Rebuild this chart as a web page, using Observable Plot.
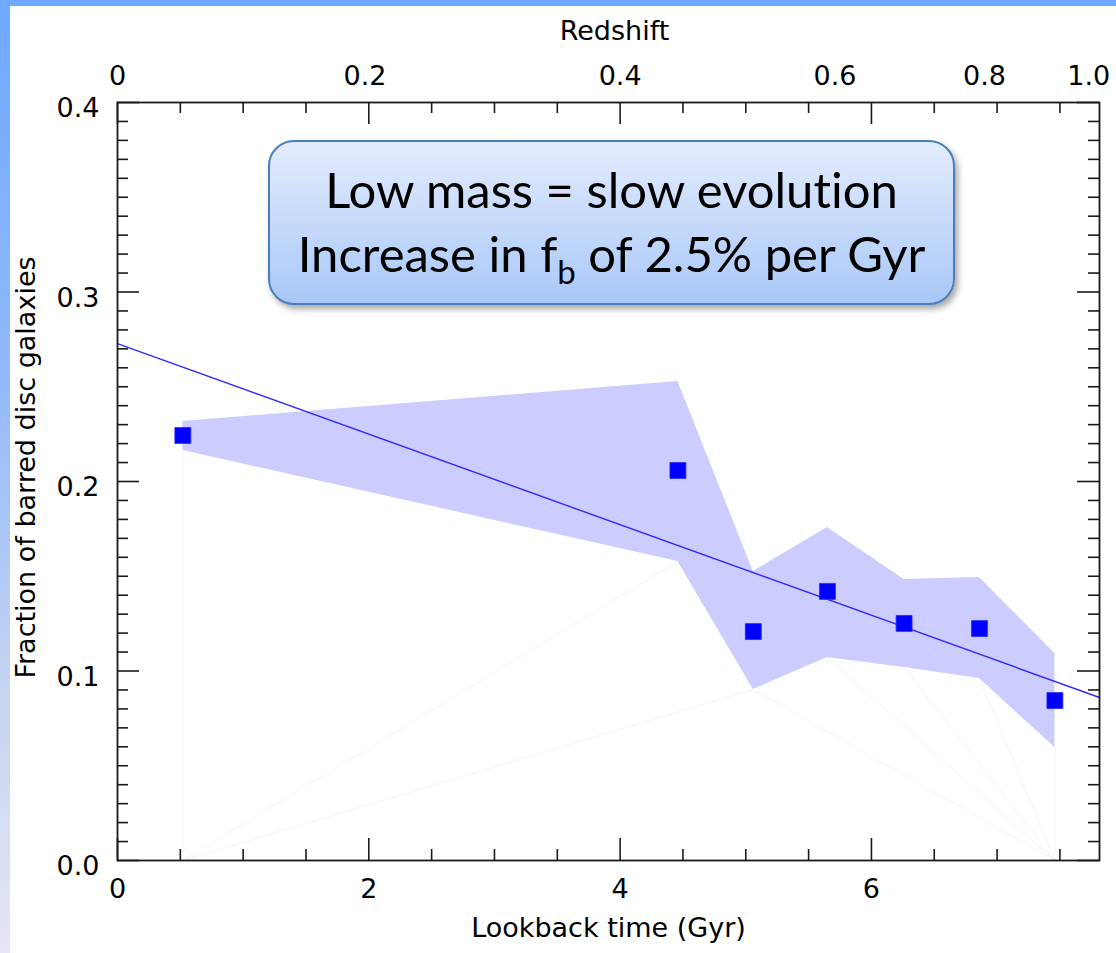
<!DOCTYPE html>
<html><head><meta charset="utf-8">
<script src="https://cdn.jsdelivr.net/npm/d3@7"></script>
<script src="https://cdn.jsdelivr.net/npm/@observablehq/plot@0.6"></script>
<style>
html,body{margin:0;padding:0;background:#fff;}
#wrap{position:relative;width:1116px;height:953px;overflow:hidden;background:#fff;}
#chart{position:absolute;left:0;top:0;}
#topbar{position:absolute;left:0;top:0;width:1116px;height:6px;background:#6fa8ff;}
#leftbar{position:absolute;left:0;top:0;width:10px;height:953px;background:linear-gradient(#6fa8ff,#92bafc 40%,#c8d6f2 75%,#e6e4f6);}
#note{position:absolute;left:268px;top:140px;width:687px;height:165px;box-sizing:border-box;border:2px solid #4a7ebb;border-radius:26px;background:linear-gradient(#e3ecfd,#a9c8f8);box-shadow:3px 4px 6px rgba(0,0,0,0.35);font-family:Lato,"Open Sans",sans-serif;font-size:49px;color:#000;text-align:center;line-height:64px;padding-top:15px;white-space:nowrap;font-variant-ligatures:none;font-feature-settings:"liga" 0;}
#note .sub{font-size:33px;position:relative;top:12px;}
</style></head><body>
<div id="wrap">
<div id="chart"></div>
<div id="topbar"></div>
<div id="leftbar"></div>
<div id="note"><div>Low mass = slow evolution</div><div>Increase in f<span class="sub">b</span> of 2.5% per Gyr</div></div>
</div>
<script>
// Data
const lookback = [0.52, 4.46, 5.06, 5.65, 6.26, 6.86, 7.46];          // Gyr
const fraction = [0.2243, 0.2058, 0.1208, 0.142, 0.1251, 0.1224, 0.0844];
const bandHigh = [0.2317, 0.2528, 0.1525, 0.1757, 0.1483, 0.1493, 0.1092];
const bandLow  = [0.2164, 0.1578, 0.0902, 0.1071, 0.1018, 0.0960, 0.0596];
const fitIntercept = 0.2728;   // fraction at lookback 0
const fitSlope = -0.0239;      // per Gyr
const xMax = 7.815;
const xTicks = [0, 2, 4, 6];
const yTicks = [0, 0.1, 0.2, 0.3, 0.4];
const redshiftLabels = ["0", "0.2", "0.4", "0.6", "0.8", "1.0"];
const redshiftAt = [0, 1.97, 4.0, 5.71, 6.90, 7.73];   // lookback-time positions of the redshift labels

const W = 1116, H = 953;
const mL = 117, mR = 17, mT = 102, mB = 93;
const frameW = W - mL - mR, frameH = H - mT - mB;

const rows = lookback.map((t, i) => ({t, f: fraction[i], hi: bandHigh[i], lo: bandLow[i]}));
const fitRows = [0, xMax].map(t => ({t, f: fitIntercept + fitSlope * t}));
const last = rows.length - 1;
const faint = [
  {x1: rows[0].t, y1: 0, x2: rows[0].t, y2: rows[0].lo},
  {x1: rows[0].t, y1: 0, x2: rows[1].t, y2: rows[1].lo},
  {x1: rows[0].t, y1: 0, x2: rows[2].t, y2: rows[2].lo},
  ...rows.slice(2, last).map(r => ({x1: rows[last].t, y1: 0, x2: r.t, y2: r.lo})),
  {x1: rows[last].t, y1: 0, x2: rows[last].t, y2: rows[last].lo}
];
const xMinor = d3.range(0, xMax, 0.5).filter(v => v % 2 !== 0);
const yMinor = d3.range(1, 40).map(v => v / 100).filter(v => Math.round(v * 100) % 10 !== 0);

const ink = "#000";
const fs = 27;

const chart = Plot.plot({
  width: W, height: H,
  marginLeft: mL, marginRight: mR, marginTop: mT, marginBottom: mB,
  style: {fontFamily: "'DejaVu Sans', sans-serif", fontSize: fs + "px", background: "transparent", color: ink},
  x: {domain: [0, xMax], axis: null},
  y: {domain: [0, 0.4], axis: null},
  marks: [
    Plot.link(faint, {x1: "x1", y1: "y1", x2: "x2", y2: "y2", stroke: "#f2f2fb", strokeWidth: 1}),
    Plot.areaY(rows, {x: "t", y1: "lo", y2: "hi", fill: "#ccccff"}),
    Plot.line(fitRows, {x: "t", y: "f", stroke: "#2b2bff", strokeWidth: 1.4}),
    Plot.dot(rows, {x: "t", y: "f", symbol: "square", r: 9, fill: "#0000ff", stroke: "#2a2aff", strokeWidth: 0.8}),
    Plot.frame({stroke: "#1a1a1a", strokeWidth: 1.8}),
    // bottom ticks
    Plot.ruleX(xMinor, {insetTop: frameH - 11, stroke: "#1a1a1a", strokeWidth: 1.6}),
    Plot.ruleX(xTicks, {insetTop: frameH - 22, stroke: "#1a1a1a", strokeWidth: 1.6}),
    // top ticks
    Plot.ruleX(xMinor, {insetBottom: frameH - 11, stroke: "#1a1a1a", strokeWidth: 1.6}),
    Plot.ruleX(xTicks, {insetBottom: frameH - 22, stroke: "#1a1a1a", strokeWidth: 1.6}),
    // left ticks
    Plot.ruleY(yMinor, {insetRight: frameW - 11, stroke: "#1a1a1a", strokeWidth: 1.6}),
    Plot.ruleY(yTicks, {insetRight: frameW - 22, stroke: "#1a1a1a", strokeWidth: 1.6}),
    // right ticks
    Plot.ruleY(yMinor, {insetLeft: frameW - 11, stroke: "#1a1a1a", strokeWidth: 1.6}),
    Plot.ruleY(yTicks, {insetLeft: frameW - 22, stroke: "#1a1a1a", strokeWidth: 1.6}),
    // tick labels
    Plot.axisX(xTicks, {anchor: "bottom", tickSize: 0, tickPadding: 18, fontSize: fs, fill: ink, label: null, tickFormat: d => String(d)}),
    Plot.axisX(redshiftAt, {anchor: "top", tickSize: 0, tickPadding: 18, fontSize: fs, fill: ink, label: null,
      tickFormat: d => redshiftLabels[redshiftAt.indexOf(d)]}),
    Plot.axisY(yTicks, {anchor: "left", tickSize: 0, tickPadding: 18, dy: 6, fontSize: fs, fill: ink, label: null, tickFormat: d => d.toFixed(1)}),
    // axis titles
    Plot.text(["Lookback time (Gyr)"], {frameAnchor: "bottom", dy: 76, text: d => d, fontSize: fs, fill: ink}),
    Plot.text(["Redshift"], {frameAnchor: "top", dy: -82, dx: 6, text: d => d, fontSize: fs, fill: ink}),
    Plot.text(["Fraction of barred disc galaxies"], {frameAnchor: "left", textAnchor: "middle", lineAnchor: "middle", dx: -91, dy: -14, rotate: -90, text: d => d, fontSize: fs, fill: ink})
  ]
});
document.getElementById("chart").appendChild(chart);
</script>
</body></html>
